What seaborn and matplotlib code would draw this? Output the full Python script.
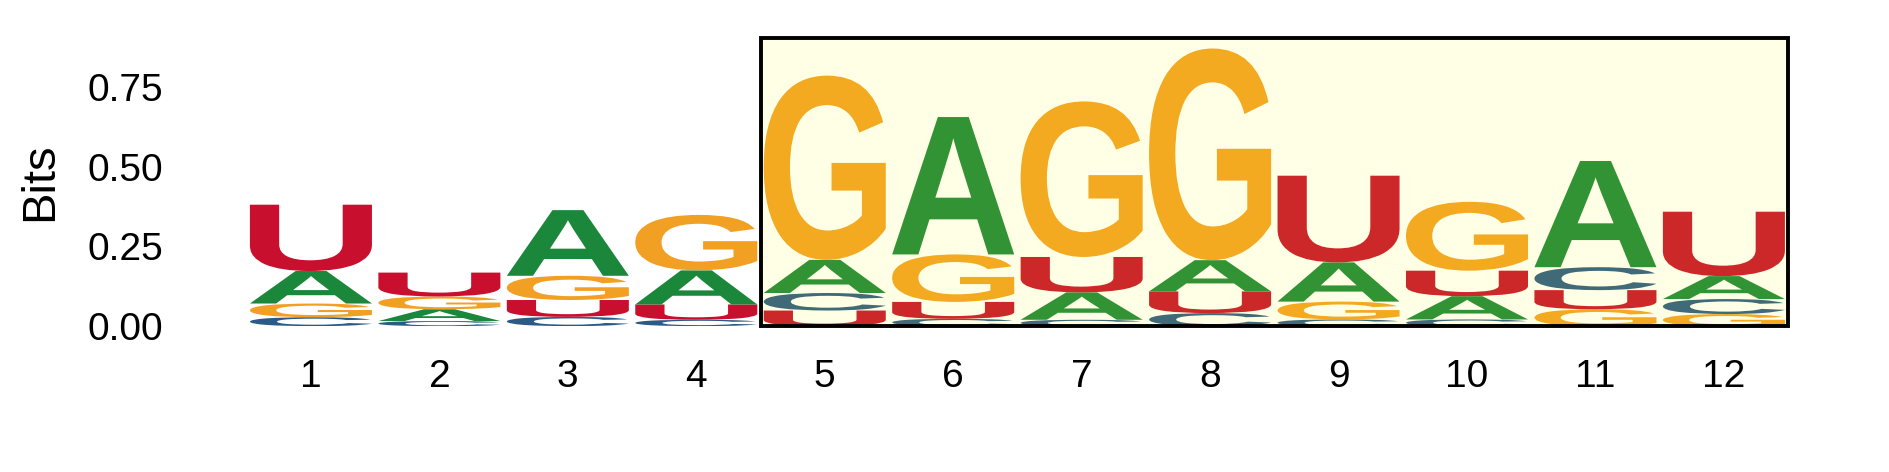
"""Sequence logo (bits) with a highlighted motif window."""

import matplotlib

matplotlib.use("Agg")

import matplotlib.pyplot as plt
import pandas as pd
import seaborn as sns
from matplotlib.font_manager import FontProperties
from matplotlib.patches import PathPatch, Rectangle
from matplotlib.textpath import TextPath
from matplotlib.transforms import Affine2D

# information content (bits) per letter at each position
positions = list(range(1, 13))
bits_A = [0.102, 0.037, 0.206, 0.107, 0.104, 0.431, 0.086, 0.098, 0.123, 0.073, 0.333, 0.072]
bits_C = [0.028, 0.016, 0.029, 0.020, 0.055, 0.023, 0.020, 0.041, 0.021, 0.021, 0.072, 0.047]
bits_G = [0.043, 0.040, 0.076, 0.174, 0.578, 0.149, 0.488, 0.664, 0.056, 0.216, 0.053, 0.038]
bits_U = [0.208, 0.075, 0.053, 0.048, 0.049, 0.053, 0.111, 0.068, 0.272, 0.080, 0.060, 0.202]

yticks = [0.0, 0.25, 0.5, 0.75]
highlight_start, highlight_end = 5, 12

LETTER_COLORS = {"A": "#1A873A", "C": "#2C5A86", "G": "#F2A024", "U": "#C8102E"}
GLYPH_FONT = FontProperties(family="Liberation Sans", weight="bold")
LETTER_WIDTH = 0.95
YMAX = 0.904


def draw_letter(ax, char, x, bottom, height, color):
    """Stretch a glyph so it fills the box [x-w/2, x+w/2] x [bottom, bottom+height]."""
    path = TextPath((0, 0), char, size=1, prop=GLYPH_FONT)
    ext = path.get_extents()
    tf = (
        Affine2D()
        .translate(-ext.x0, -ext.y0)
        .scale(LETTER_WIDTH / ext.width, height / ext.height)
        .translate(x - LETTER_WIDTH / 2, bottom)
    )
    ax.add_patch(PathPatch(tf.transform_path(path), facecolor=color, edgecolor="none", lw=0))


logo_df = pd.DataFrame({"A": bits_A, "C": bits_C, "G": bits_G, "U": bits_U}, index=positions)

sns.set_theme(style="white")
plt.rcParams["font.family"] = ["Liberation Sans", "DejaVu Sans"]
plt.rcParams["text.color"] = "black"
plt.rcParams["xtick.color"] = "black"
plt.rcParams["ytick.color"] = "black"
plt.rcParams["axes.labelcolor"] = "black"

fig = plt.figure(figsize=(18.89, 4.72), dpi=100)
ax = fig.add_axes([0.1306, 0.309, 0.816, 0.6105])

# stack letters smallest at the bottom
for pos, row in logo_df.iterrows():
    bottom = 0.0
    for letter, h in row.sort_values().items():
        draw_letter(ax, letter, pos, bottom, h, LETTER_COLORS[letter])
        bottom += h

ax.add_patch(
    Rectangle(
        (highlight_start - 0.5, 0),
        highlight_end - highlight_start + 1,
        YMAX,
        facecolor=(1, 1, 0, 0.1),
        edgecolor="black",
        lw=2.8,
        zorder=5,
        clip_on=False,
    )
)

ax.set_xlim(0.5, 12.5)
ax.set_ylim(0, YMAX)
ax.set_xticks(positions)
ax.set_xticklabels([str(p) for p in positions], fontsize=28)
ax.set_yticks(yticks)
ax.set_yticklabels([f"{v:.2f}" for v in yticks], fontsize=28)
ax.tick_params(axis="x", length=0, pad=24)
ax.tick_params(axis="y", length=0, pad=60)
ax.set_ylabel("Bits", fontsize=34)
ax.yaxis.set_label_coords(-0.12, 0.5)
sns.despine(ax=ax, left=True, bottom=True)

fig.savefig("out.png", dpi=100)
